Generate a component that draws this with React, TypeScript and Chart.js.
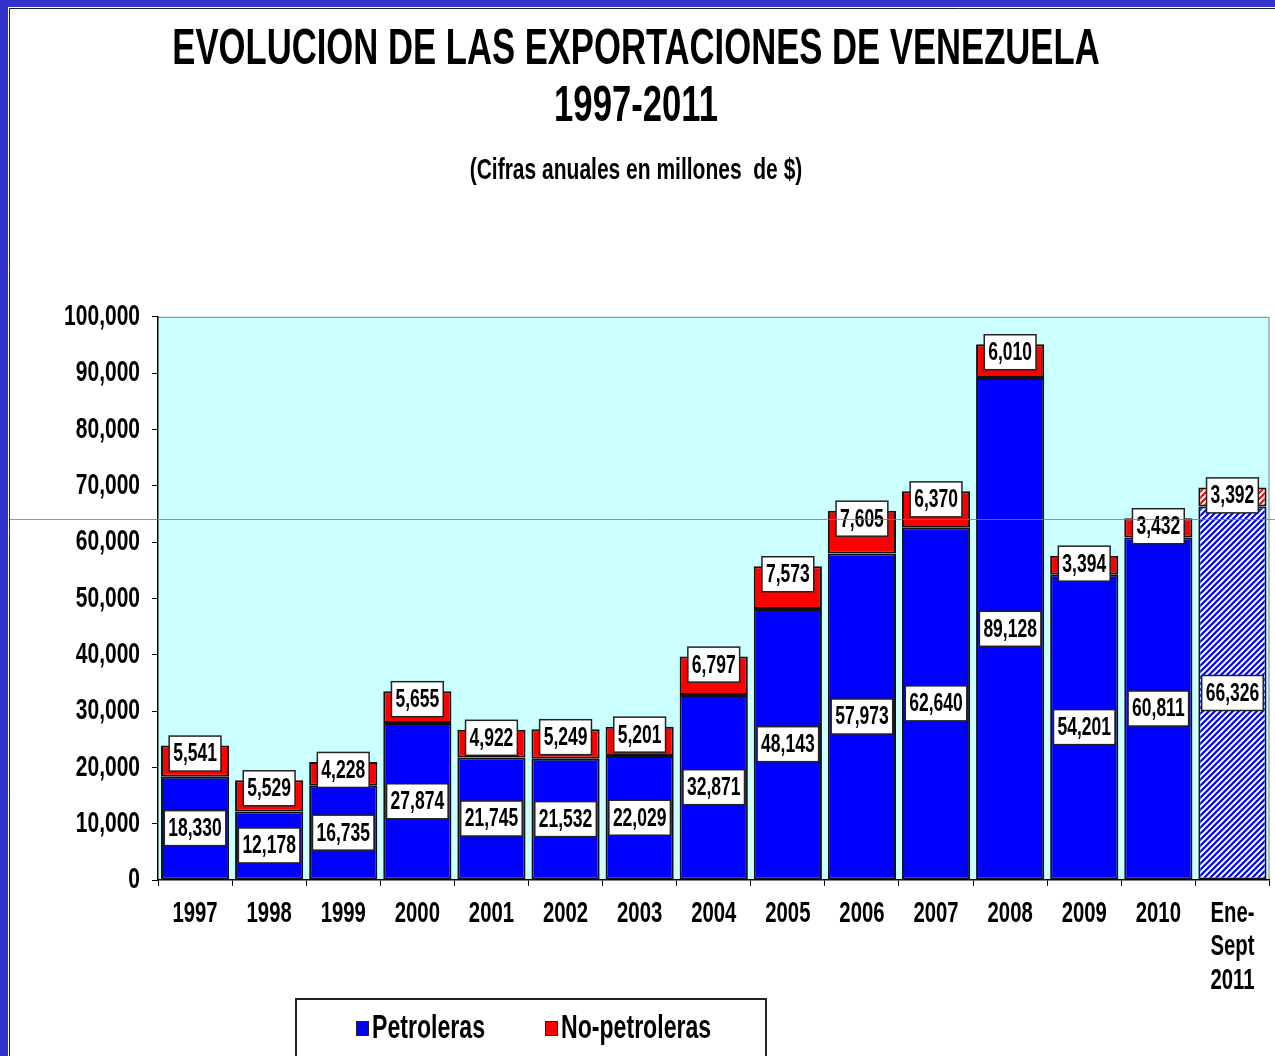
import React, { useEffect, useRef } from "react";
import { Chart, registerables } from "chart.js";

Chart.register(...registerables);

const categories: (string | string[])[] = [
  "1997", "1998", "1999", "2000", "2001", "2002", "2003", "2004",
  "2005", "2006", "2007", "2008", "2009", "2010", ["Ene-", "Sept", "2011"],
];
const petroleras = [18330, 12178, 16735, 27874, 21745, 21532, 22029, 32871, 48143, 57973, 62640, 89128, 54201, 60811, 66326];
const noPetroleras = [5541, 5529, 4228, 5655, 4922, 5249, 5201, 6797, 7573, 7605, 6370, 6010, 3394, 3432, 3392];
const seriesNames = ["Petroleras", "No-petroleras"];
const titleLines = ["EVOLUCION DE LAS EXPORTACIONES DE VENEZUELA", "1997-2011"];
const subtitleText = "(Cifras anuales en millones  de $)";
const yMax = 100000;
const yStep = 10000;
const partialIndex = 14;

const FONT = '"Liberation Sans", Arial, sans-serif';
const SX = 0.7; // horizontal compression of all text (narrow, tall lettering)
const BLUE = "#0000ff";
const RED = "#ff0000";

function makeHatch(color: string): CanvasPattern | string {
  const c = document.createElement("canvas");
  c.width = 6;
  c.height = 6;
  const g = c.getContext("2d");
  if (!g) return color;
  g.fillStyle = "#ffffff";
  g.fillRect(0, 0, 6, 6);
  g.strokeStyle = color;
  g.lineWidth = 2.2;
  g.beginPath();
  g.moveTo(-1, 7); g.lineTo(7, -1);
  g.moveTo(-4, 4); g.lineTo(4, -4);
  g.moveTo(2, 10); g.lineTo(10, 2);
  g.stroke();
  return g.createPattern(c, "repeat") || color;
}

const framePlugin = {
  id: "frame",
  beforeDraw(chart: any) {
    const { ctx, chartArea: a, width } = chart;
    ctx.save();
    ctx.fillStyle = "#ffffff";
    ctx.fillRect(0, 0, chart.width, chart.height);
    ctx.fillStyle = "#ccffff";
    ctx.fillRect(a.left, a.top, a.right - a.left, a.bottom - a.top);
    ctx.strokeStyle = "#808080";
    ctx.lineWidth = 1;
    ctx.beginPath();
    ctx.moveTo(a.left, a.top + 0.5);
    ctx.lineTo(a.right - 0.5, a.top + 0.5);
    ctx.lineTo(a.right - 0.5, a.bottom);
    ctx.stroke();
    ctx.fillStyle = "#3333cc";
    ctx.fillRect(0, 0, width, 7);
    ctx.fillRect(0, 0, 8, chart.height);
    ctx.strokeStyle = "#222222";
    ctx.beginPath();
    ctx.moveTo(9.5, chart.height);
    ctx.lineTo(9.5, 8.5);
    ctx.lineTo(width, 8.5);
    ctx.stroke();
    ctx.restore();
  },
  afterDraw(chart: any) {
    const { ctx } = chart;
    // value labels
    ctx.save();
    ctx.font = `bold 25px ${FONT}`;
    ctx.textAlign = "center";
    ctx.textBaseline = "middle";
    chart.data.datasets.forEach((ds: any, di: number) => {
      const meta = chart.getDatasetMeta(di);
      meta.data.forEach((bar: any, i: number) => {
        const v = ds.data[i] as number;
        const txt = v.toLocaleString("en-US");
        const cy = di === 0 ? (bar.y + bar.base) / 2 : bar.y + 8;
        const w = ctx.measureText(txt).width * SX + 8;
        const h = 35;
        ctx.fillStyle = "#ffffff";
        ctx.fillRect(bar.x - w / 2, cy - h / 2, w, h);
        ctx.strokeStyle = "#222222";
        ctx.lineWidth = 1.5;
        ctx.strokeRect(bar.x - w / 2, cy - h / 2, w, h);
        ctx.fillStyle = "#000000";
        ctx.fillText(txt, bar.x, cy + 1);
      });
    });
    // legend
    const lx = 296, ly = 999, lw = 470, lh = 70;
    ctx.strokeStyle = "#222222";
    ctx.lineWidth = 2;
    ctx.strokeRect(lx, ly, lw, lh);
    ctx.font = `bold 33px ${FONT}`;
    ctx.textAlign = "left";
    const itemX = [356, 545];
    chart.data.datasets.forEach((ds: any, di: number) => {
      const x = itemX[di];
      ctx.fillStyle = di === 0 ? BLUE : RED;
      ctx.fillRect(x, 1021, 12, 14);
      ctx.strokeStyle = "#222222";
      ctx.lineWidth = 1;
      ctx.strokeRect(x + 0.5, 1021.5, 12, 14);
      ctx.fillStyle = "#000000";
      ctx.fillText(ds.label, x + 16, 1029);
    });
    // thin horizontal guide line across the picture
    ctx.strokeStyle = "rgba(110,110,220,0.8)";
    ctx.lineWidth = 1;
    ctx.beginPath();
    ctx.moveTo(10, 519.5);
    ctx.lineTo(chart.width, 519.5);
    ctx.stroke();
    ctx.restore();
  },
};

export default function App() {
  const ref = useRef<HTMLCanvasElement | null>(null);
  useEffect(() => {
    const canvas = ref.current;
    if (!canvas) return;
    const ctx = canvas.getContext("2d") as CanvasRenderingContext2D;
    const origFillText = ctx.fillText;
    (ctx as any).fillText = function (text: string, x: number, y: number, maxWidth?: number) {
      ctx.save();
      ctx.translate(x, y);
      ctx.scale(SX, 1);
      if (maxWidth === undefined) origFillText.call(ctx, text, 0, 0);
      else origFillText.call(ctx, text, 0, 0, maxWidth / SX);
      ctx.restore();
    };
    const blueHatch = makeHatch(BLUE);
    const redHatch = makeHatch(RED);
    const chart = new Chart(ctx, {
      type: "bar",
      data: {
        labels: categories,
        datasets: [
          {
            label: seriesNames[0],
            data: petroleras,
            backgroundColor: petroleras.map((_, i) => (i === partialIndex ? blueHatch : BLUE)) as any,
            borderColor: "#111111",
            borderWidth: 2,
            borderSkipped: false,
            barPercentage: 0.92,
            categoryPercentage: 1,
          },
          {
            label: seriesNames[1],
            data: noPetroleras,
            backgroundColor: noPetroleras.map((_, i) => (i === partialIndex ? redHatch : RED)) as any,
            borderColor: "#111111",
            borderWidth: 2,
            borderSkipped: false,
            barPercentage: 0.92,
            categoryPercentage: 1,
          },
        ],
      },
      options: {
        responsive: false,
        maintainAspectRatio: false,
        animation: false,
        devicePixelRatio: 1,
        layout: { padding: { left: 0, right: 3, top: 0, bottom: 56 } },
        plugins: {
          legend: { display: false },
          tooltip: { enabled: false },
          title: {
            display: true,
            text: titleLines,
            color: "#000000",
            font: { family: FONT, size: 49.5, weight: "bold", lineHeight: 1.15 },
            padding: { top: 22, bottom: 0 },
          },
          subtitle: {
            display: true,
            text: subtitleText,
            color: "#000000",
            font: { family: FONT, size: 30, weight: "bold", lineHeight: 1.2 },
            padding: { top: 17, bottom: 128 },
          },
        },
        scales: {
          x: {
            stacked: true,
            offset: true,
            grid: {
              display: true,
              offset: true,
              drawOnChartArea: false,
              drawTicks: true,
              tickLength: 6,
              color: "#000000",
            },
            border: { display: true, color: "#000000", width: 1.5 },
            ticks: {
              color: "#000000",
              font: { family: FONT, size: 29, weight: "bold", lineHeight: 1.155 },
              padding: 11,
              maxRotation: 0,
              autoSkip: false,
            },
            afterFit: (s: any) => { s.height = 120; },
          },
          y: {
            stacked: true,
            min: 0,
            max: yMax,
            grid: {
              display: true,
              drawOnChartArea: false,
              drawTicks: true,
              tickLength: 6,
              color: "#000000",
            },
            border: { display: true, color: "#000000", width: 1.5 },
            ticks: {
              stepSize: yStep,
              color: "#000000",
              font: { family: FONT, size: 30, weight: "bold" },
              padding: 12,
              callback: (v: any) => Number(v).toLocaleString("en-US"),
            },
            afterFit: (s: any) => { s.width = 158; },
          },
        },
      },
      plugins: [framePlugin],
    });
    return () => {
      chart.destroy();
      (ctx as any).fillText = origFillText;
    };
  }, []);
  return (
    <div style={{ position: "absolute", left: 0, top: 0, width: 1275, height: 1056, overflow: "hidden" }}>
      <canvas ref={ref} width={1275} height={1056} style={{ display: "block" }} />
    </div>
  );
}
